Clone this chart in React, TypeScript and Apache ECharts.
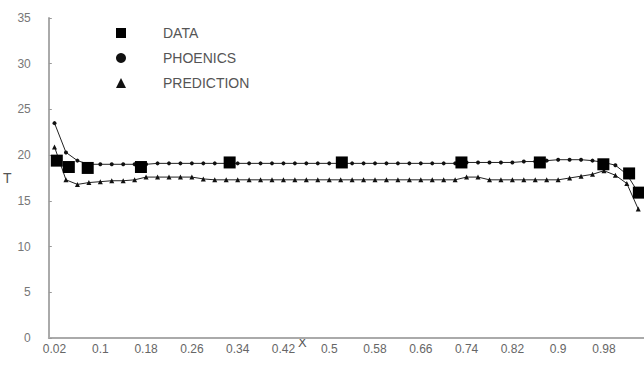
import React, { useEffect, useRef } from "react";
import * as echarts from "echarts";

const categories = [
  "0.02", "0.04", "0.06", "0.08", "0.1", "0.12", "0.14", "0.16", "0.18", "0.2",
  "0.22", "0.24", "0.26", "0.28", "0.3", "0.32", "0.34", "0.36", "0.38", "0.4",
  "0.42", "0.44", "0.46", "0.48", "0.5", "0.52", "0.54", "0.56", "0.58", "0.6",
  "0.62", "0.64", "0.66", "0.68", "0.7", "0.72", "0.74", "0.76", "0.78", "0.8",
  "0.82", "0.84", "0.86", "0.88", "0.9", "0.92", "0.94", "0.96", "0.98", "1",
  "1.02", "1.04",
];

const phoenics = [
  23.5, 20.3, 19.4, 19.0, 19.0, 19.0, 19.0, 19.0, 19.0, 19.1,
  19.1, 19.1, 19.1, 19.1, 19.1, 19.1, 19.1, 19.1, 19.1, 19.1,
  19.1, 19.1, 19.1, 19.1, 19.1, 19.1, 19.1, 19.1, 19.1, 19.1,
  19.1, 19.1, 19.1, 19.1, 19.1, 19.1, 19.2, 19.2, 19.2, 19.2,
  19.2, 19.3, 19.3, 19.4, 19.5, 19.5, 19.5, 19.4, 19.2, 18.9,
  17.9, 15.9,
];

const prediction = [
  20.9, 17.3, 16.8, 17.0, 17.1, 17.2, 17.2, 17.3, 17.6, 17.6,
  17.6, 17.6, 17.6, 17.4, 17.3, 17.3, 17.3, 17.3, 17.3, 17.3,
  17.3, 17.3, 17.3, 17.3, 17.3, 17.3, 17.3, 17.3, 17.3, 17.3,
  17.3, 17.3, 17.3, 17.3, 17.3, 17.3, 17.6, 17.6, 17.3, 17.3,
  17.3, 17.3, 17.3, 17.3, 17.3, 17.5, 17.7, 17.9, 18.3, 17.8,
  16.9, 14.1,
];

const dataX = [0.024, 0.045, 0.078, 0.171, 0.326, 0.522, 0.731, 0.868, 0.979, 1.024, 1.041];
const dataY = [19.4, 18.7, 18.6, 18.7, 19.2, 19.2, 19.2, 19.2, 19.0, 18.0, 15.9];

const yTicks = { min: 0, max: 35, interval: 5 };

export default function App() {
  const ref = useRef<HTMLDivElement>(null);
  useEffect(() => {
    if (!ref.current) return;
    const chart = echarts.init(ref.current, null, { renderer: "svg" });
    const font = "Liberation Sans, Arial, sans-serif";
    chart.setOption({
      animation: false,
      backgroundColor: "#ffffff",
      textStyle: { fontFamily: font },
      grid: { left: 45, right: 0, top: 18, bottom: 39, containLabel: false },
      legend: {
        orient: "vertical",
        left: 111,
        top: 21,
        itemGap: 11,
        itemWidth: 10,
        itemHeight: 10,
        textStyle: { fontSize: 14, color: "#555", fontFamily: font, padding: [0, 0, 0, 32] },
        data: [
          { name: "DATA", icon: "rect" },
          { name: "PHOENICS", icon: "circle" },
          { name: "PREDICTION", icon: "triangle" },
        ],
      },
      xAxis: [
        {
          type: "category",
          data: categories,
          boundaryGap: true,
          axisLine: { lineStyle: { color: "#aaa", width: 2 } },
          axisTick: { inside: true, length: 4, interval: 0, lineStyle: { color: "#999" } },
          axisLabel: { interval: 3, color: "#666", fontSize: 12, margin: 5, fontFamily: font },
          splitLine: { show: false },
        },
        {
          type: "value",
          min: 0.01,
          max: 1.05,
          show: false,
        },
      ],
      yAxis: {
        type: "value",
        min: yTicks.min,
        max: yTicks.max,
        interval: yTicks.interval,
        name: "T",
        nameLocation: "middle",
        nameRotate: 0,
        nameGap: 32,
        nameTextStyle: { color: "#555", fontSize: 14, fontFamily: font },
        axisLine: { show: true, lineStyle: { color: "#aaa", width: 2 } },
        axisTick: { show: true, inside: true, length: 3, lineStyle: { color: "#999" } },
        axisLabel: { color: "#777", fontSize: 12, margin: 18, fontFamily: font },
        splitLine: { show: false },
      },
      graphic: [
        {
          type: "text",
          left: 298,
          top: 336,
          style: { text: "X", fill: "#555", fontSize: 13, fontFamily: font },
        },
      ],
      series: [
        {
          name: "PHOENICS",
          type: "line",
          xAxisIndex: 0,
          data: phoenics,
          symbol: "circle",
          symbolSize: 4,
          itemStyle: { color: "#111" },
          lineStyle: { color: "#222", width: 1 },
        },
        {
          name: "PREDICTION",
          type: "line",
          xAxisIndex: 0,
          data: prediction,
          symbol: "triangle",
          symbolSize: 5,
          itemStyle: { color: "#111" },
          lineStyle: { color: "#222", width: 1 },
        },
        {
          name: "DATA",
          type: "scatter",
          xAxisIndex: 1,
          data: dataX.map((x, i) => [x, dataY[i]]),
          symbol: "rect",
          symbolSize: 12,
          itemStyle: { color: "#000", opacity: 1 },
          z: 5,
        },
      ],
    });
    return () => chart.dispose();
  }, []);
  return <div ref={ref} style={{ width: 644, height: 377, position: "absolute", left: 0, top: 0 }} />;
}
